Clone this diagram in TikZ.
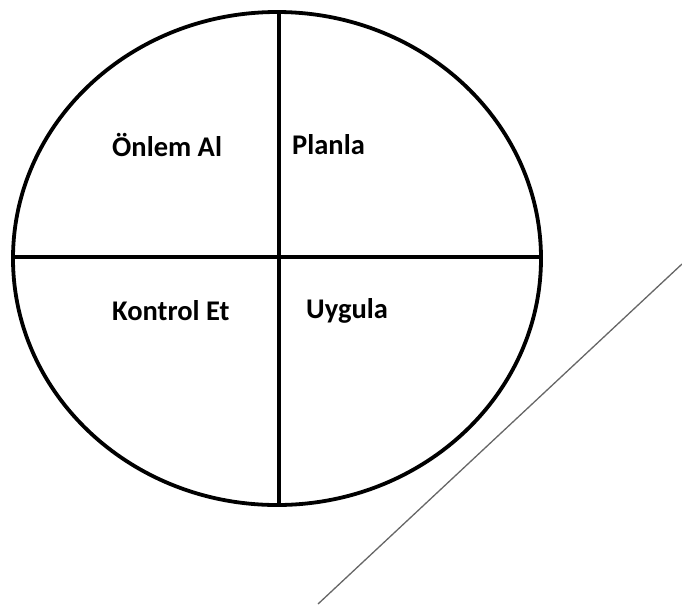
\documentclass[tikz,border=0pt]{standalone}
\usepackage{fontspec}
\setmainfont{Carlito}
\begin{document}
\begin{tikzpicture}[x=1pt,y=-1pt,
  thick line/.style={line width=3.8pt,black},
  label/.style={font=\bfseries\fontsize{28.5}{31}\selectfont,anchor=west,inner sep=0pt}]
\useasboundingbox (0,0) rectangle (682,606);
\draw[thick line] (277,258.5) ellipse [x radius=264, y radius=246.5];
\coordinate (top) at (279,12);
\coordinate (bot) at (279,505);
\coordinate (left) at (13,257);
\coordinate (right) at (541,257);
\draw[thick line] (top) -- (bot);
\draw[thick line] (left) -- (right);
\coordinate (d1) at (682,264);
\coordinate (d2) at (318,604);
\draw[line width=1.3pt,black!60] (d1) -- (d2);
\node[label] (onlem) at (112,145) {Önlem Al};
\node[label] (planla) at (292,145) {Planla};
\node[label] (kontrol) at (112,311) {Kontrol Et};
\node[label] (uygula) at (306,311) {Uygula};
\end{tikzpicture}
\end{document}
